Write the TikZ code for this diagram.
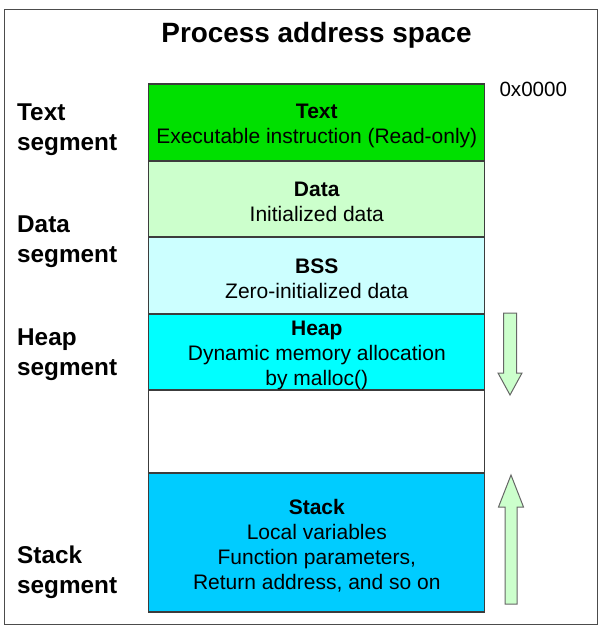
\documentclass[tikz,border=0pt]{standalone}
\usepackage{fontspec}
\setmainfont{Liberation Sans}
\usetikzlibrary{positioning}
\definecolor{textgreen}{RGB}{0,224,0}
\definecolor{datagreen}{RGB}{204,255,204}
\definecolor{bsscyan}{RGB}{204,255,255}
\definecolor{heapcyan}{RGB}{0,255,255}
\definecolor{stackblue}{RGB}{0,204,255}
\definecolor{edgegray}{RGB}{60,60,60}
\tikzset{node distance=0pt, % segments are stacked without gaps
      seg/.style={ % one block of the address space
      draw=edgegray,
      line width=1.3pt,
      outer sep=0pt,
      minimum width=336pt},
      segtext/.style={ % text inside a block, a little below its centre
      align=center,
      yshift=-3pt,
      font=\fontsize{21}{25}\selectfont},
      seglabel/.style={ % segment names on the left
      anchor=west,
      align=left,
      inner sep=0pt,
      font=\fontsize{24.3}{30}\selectfont\bfseries},
      growarrow/.style={ % hollow arrows showing growth direction
      draw=gray!80!black,
      line width=1pt,
      fill=datagreen}}

\begin{document}
\begin{tikzpicture}[x=1pt,y=-1pt]
      \useasboundingbox (0,0) rectangle (603,629);
      \draw[gray!60!black, line width=1.5pt] (4.5,9.5) rectangle (597.5,624.5);
      \node[font=\fontsize{27.9}{34}\selectfont\bfseries] (title) at (316.5,35) {Process address space};
      % memory layout
      \node[seg, fill=textgreen, minimum height=77pt] (text) at (316.8,122.5) {};
      \node[seg, fill=datagreen, minimum height=76pt, below=of text] (data) {};
      \node[seg, fill=bsscyan, minimum height=77pt, below=of data] (bss) {};
      \node[seg, fill=heapcyan, minimum height=76pt, below=of bss] (heap) {};
      \node[seg, fill=white, minimum height=83pt, below=of heap] (free) {};
      \node[seg, fill=stackblue, minimum height=139pt, below=of free] (stack) {};
      \node[segtext] (texttxt) at (text.center) {\textbf{Text}\\Executable instruction (Read-only)};
      \node[segtext] (datatxt) at (data.center) {\textbf{Data}\\Initialized data};
      \node[segtext] (bsstxt) at (bss.center) {\textbf{BSS}\\Zero-initialized data};
      \node[segtext] (heaptxt) at (heap.center) {\textbf{Heap}\\Dynamic memory allocation\\by malloc()};
      \node[segtext] (stacktxt) at (stack.center) {\textbf{Stack}\\Local variables\\Function parameters,\\Return address, and so on};
      \node[anchor=west, font=\fontsize{20.6}{25}\selectfont] (addr) at (496,89.5) {0x0000};
      % labels
      \node[seglabel] (textseg) at (17,130) {Text\\segment};
      \node[seglabel] (dataseg) at (17,242) {Data\\segment};
      \node[seglabel] (heapseg) at (17,354.5) {Heap\\segment};
      \node[seglabel] (stackseg) at (17,572) {Stack\\segment};
      % growth arrows
      \draw[growarrow] (503.5,313) -- (516.5,313) -- (516.5,373) -- (522,373) -- (510,395)
            -- (498,373) -- (503.5,373) -- cycle;
      \draw[growarrow] (505,604) -- (517,604) -- (517,507) -- (523.5,507) -- (511,475)
            -- (498.5,507) -- (505,507) -- cycle;
\end{tikzpicture}
\end{document}
